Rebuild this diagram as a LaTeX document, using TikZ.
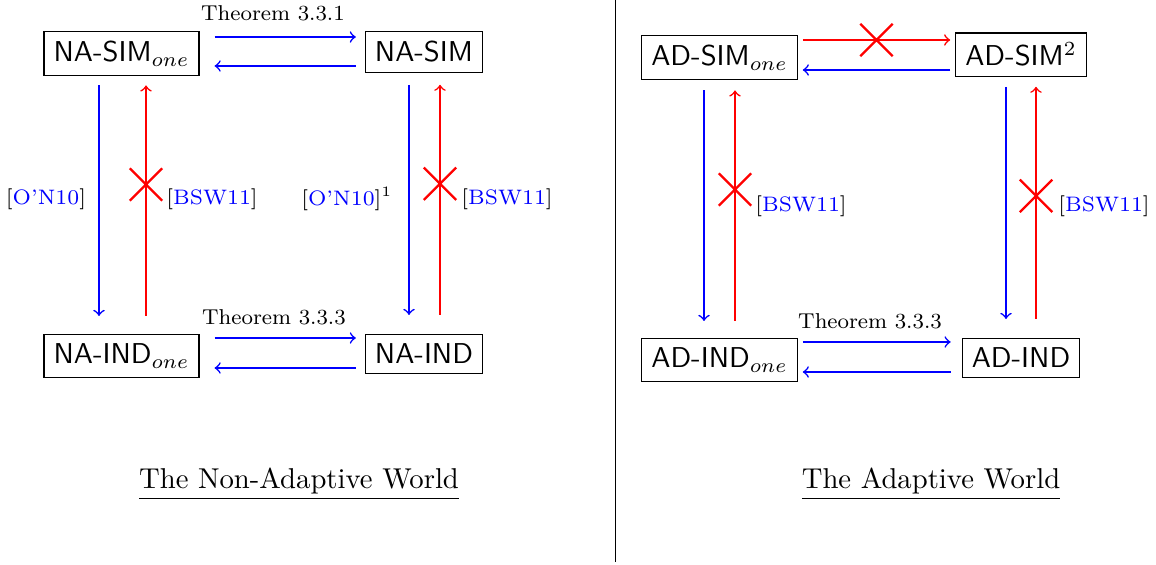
\documentclass[tikz,border=0pt]{standalone}
\usepackage{fontspec}
\usetikzlibrary{calc,shapes.misc}
\begin{document}
\begin{tikzpicture}[x=0.3484pt,y=-0.3484pt,
  notion/.style={draw=black,line width=0.4pt,inner sep=3.33pt,font=\sffamily,anchor=base},
  imp/.style={blue,->,line width=0.55pt},
  sep/.style={red,->,line width=0.55pt},
  nogo/.style={cross out,draw=red,line width=0.8pt,minimum size=10.5pt,inner sep=0pt,sloped},
  thm/.style={font=\fontsize{7.5}{9}\selectfont},
  cite/.style={font=\fontsize{7.3}{8.5}\selectfont},
  world/.style={font=\normalsize}]
\useasboundingbox (0,0) rectangle (1156,565);
\newcommand{\citeref}[1]{[\textcolor{blue}{#1}]}

% ---------------- non-adaptive setting ----------------
\node[notion] (nasimone) at (121.5,62) {NA-SIM$_{one}$};
\node[notion] (nasim)    at (424,62)   {NA-SIM};
\node[notion] (naindone) at (121.5,364) {NA-IND$_{one}$};
\node[notion] (naind)    at (424,364)  {NA-IND};

\draw[imp] ($(nasimone.base east)+(15,-25)$) -- ($(nasim.base west)+(-9,-25)$);
\draw[imp] ($(nasim.base west)+(-9,4)$) -- ($(nasimone.base east)+(15,4)$);
\node[thm] (t331) at (273,13) {Theorem 3.3.1};

\draw[imp] ($(naindone.base east)+(15,-26)$) -- ($(naind.base west)+(-9,-26)$);
\draw[imp] ($(naind.base west)+(-9,4)$) -- ($(naindone.base east)+(15,4)$);
\node[thm] (t333a) at (274,317) {Theorem 3.3.3};

\draw[imp] ($(nasimone.south)+(-22.5,9)$) -- ($(naindone.north)+(-22.5,-18)$);
\draw[sep] ($(naindone.north)+(24.5,-18)$) -- node[nogo,pos=0.57]{} ($(nasimone.south)+(24.5,9)$);
\node[cite] (on10a) at (46,199) {\citeref{O’N10}};
\node[cite] (bswa)  at (212,199) {\citeref{BSW11}};

\draw[imp] ($(nasim.south)+(-15,12)$) -- ($(naind.north)+(-15,-19)$);
\draw[sep] ($(naind.north)+(16,-19)$) -- node[nogo,pos=0.57]{} ($(nasim.south)+(16,12)$);
\node[cite] (on10b) at (347,199) {\citeref{O’N10}$^1$};
\node[cite] (bswb)  at (507,199) {\citeref{BSW11}};

\node[world] (naw) at (299,484) {\underline{The Non-Adaptive World}};

% ---------------- divider ----------------
\draw[line width=0.3pt] (615,0) -- (615,562);

% ---------------- adaptive setting ----------------
\node[notion] (adsimone) at (719.5,66) {AD-SIM$_{one}$};
\node[notion] (adsim)    at (1021,66)  {AD-SIM$^2$};
\node[notion] (adindone) at (719.5,368) {AD-IND$_{one}$};
\node[notion] (adind)    at (1021,368) {AD-IND};

\draw[sep] ($(adsimone.base east)+(5,-26)$) -- node[nogo]{} ($(adsim.base west)+(-5,-26)$);
\draw[imp] ($(adsim.base west)+(-5,4)$) -- ($(adsimone.base east)+(5,4)$);

\draw[imp] ($(adindone.base east)+(5,-26)$) -- ($(adind.base west)+(-11,-26)$);
\draw[imp] ($(adind.base west)+(-11,4)$) -- ($(adindone.base east)+(5,4)$);
\node[thm] (t333b) at (870,321) {Theorem 3.3.3};

\draw[imp] ($(adsimone.south)+(-15.5,10)$) -- ($(adindone.north)+(-15.5,-17)$);
\draw[sep] ($(adindone.north)+(15.5,-17)$) -- node[nogo,pos=0.57]{} ($(adsimone.south)+(15.5,10)$);
\node[cite] (bswc) at (801,206) {\citeref{BSW11}};

\draw[imp] ($(adsim.south)+(-15,10)$) -- ($(adind.north)+(-15,-19)$);
\draw[sep] ($(adind.north)+(15,-19)$) -- node[nogo,pos=0.53]{} ($(adsim.south)+(15,10)$);
\node[cite] (bswd) at (1104,206) {\citeref{BSW11}};

\node[world] (adw) at (931,484) {\underline{The Adaptive World}};
\end{tikzpicture}
\end{document}
